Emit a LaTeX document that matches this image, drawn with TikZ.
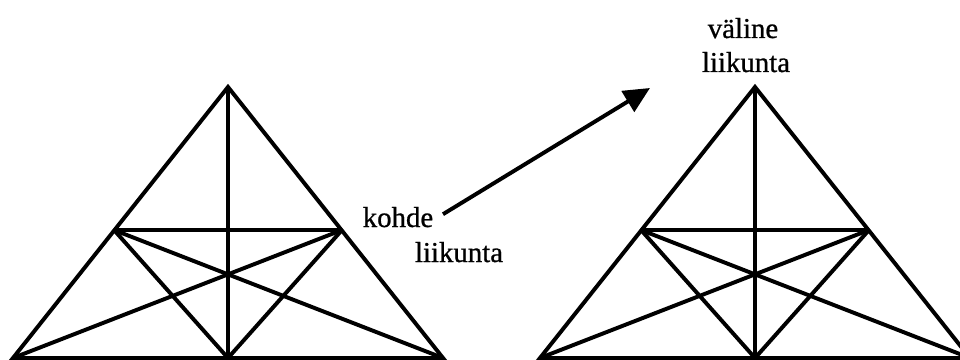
\documentclass[tikz,border=0pt]{standalone}
\usepackage{fontspec}
\setmainfont{Liberation Serif}
\newfontfamily\termfont{Liberation Serif}[FakeBold=0.8]
\usetikzlibrary{arrows.meta,positioning}

\begin{document}
\begin{tikzpicture}[
        x=0.025cm, y=-0.025cm,
        edge/.style={line width=2.8pt},
        term/.style={font=\termfont\fontsize{20.5}{24}\selectfont, anchor=base},
        arrow/.style={-{Triangle[length=18.5pt, width=17pt]}, line width=2.8pt, shorten <=4pt}
    ]
    \useasboundingbox (0,0) rectangle (960,360);

    \foreach \side/\dx in {L/0, R/527} {
        \begin{scope}[shift={(\dx,0)}]
            \coordinate (apex\side) at (228,87);
            \coordinate (baseleft\side) at (13,358);
            \coordinate (baseright\side) at (443,358);
            \coordinate (basemid\side) at (228,358);
            \coordinate (midleft\side) at (114,230);
            \coordinate (midright\side) at (342,230);
        \end{scope}
        \draw[edge] (apex\side) -- (baseleft\side) -- (baseright\side) -- cycle;
        \draw[edge] (apex\side) -- (basemid\side);
        \draw[edge] (midleft\side) -- (midright\side);
        \draw[edge] (midleft\side) -- (baseright\side);
        \draw[edge] (midright\side) -- (baseleft\side);
        \draw[edge] (midleft\side) -- (basemid\side) -- (midright\side);
    }

    \node[term] (kohde) at (398,227) {kohde};
    \node[term] (liikuntaL) at (459,262) {liikunta};
    \node[term] (valine) at (743,38) {väline};
    \node[term] (liikuntaR) at (746,72) {liikunta};

    \coordinate (goal) at (650,88);
    \draw[arrow] (kohde.east) -- (goal);

\end{tikzpicture}
\end{document}
